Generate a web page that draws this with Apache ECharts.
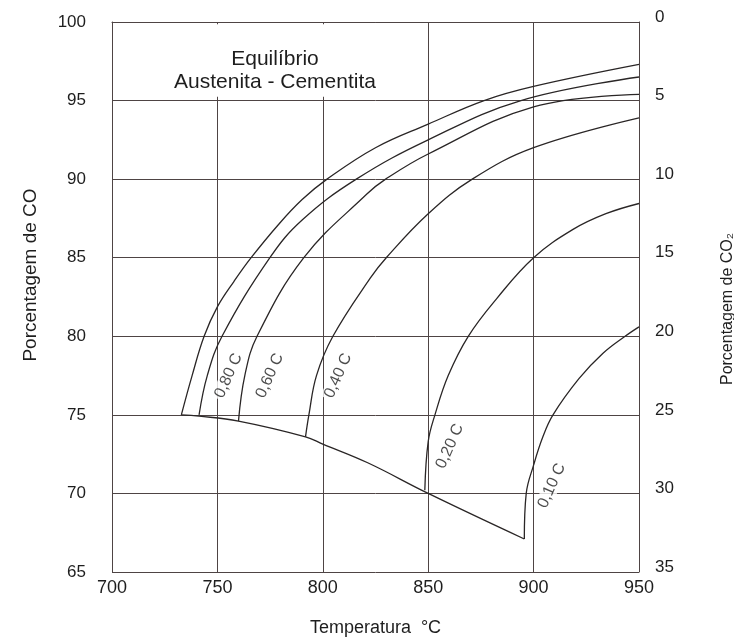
<!DOCTYPE html>
<html>
<head>
<meta charset="utf-8">
<title>Equilíbrio Austenita - Cementita</title>
<script src="https://cdn.jsdelivr.net/npm/echarts@6/dist/echarts.min.js"></script>
<style>
  html, body { margin: 0; padding: 0; background: #fff; }
  #chart { width: 734px; height: 642px; }
</style>
</head>
<body>
<div id="chart"></div>
<script>
// Equilíbrio austenita - cementita: % CO x temperatura

const tempTicks = [700, 750, 800, 850, 900, 950];
const coTicks = [65, 70, 75, 80, 85, 90, 95, 100];
const co2Ticks = [0, 5, 10, 15, 20, 25, 30, 35];

// curvas: [temperatura °C, % CO]
const curveSat = [[732.9, 75], [738, 77.5], [743.7, 80], [750.1, 81.9], [757.9, 83.5], [766, 85], [778.9, 87.1], [790.2, 88.7], [802, 90], [825, 92], [850, 93.5], [876.5, 95], [900, 95.9], [950, 97.3]];
const curve080 = [[741.3, 75], [745.2, 77.5], [752.2, 80], [774.9, 85], [790.2, 87.4], [815.9, 90], [850, 92.5], [894, 95], [950, 96.5]];
const curve060 = [[760, 74.6], [763, 77.5], [768.8, 80], [791, 85], [820.9, 89.05], [829.8, 90], [850, 91.6], [900, 94.6], [950, 95.4]];
const curve040 = [[791.8, 73.6], [793.4, 75], [797, 77.5], [804.8, 80], [822.5, 83.7], [830.1, 85], [850, 87.8], [870.9, 90], [900, 92], [950, 93.9]];
const curve020 = [[848.4, 70.2], [850, 73.3], [853.2, 75], [859.5, 77.5], [869, 80], [882.5, 82.4], [900, 85], [918.7, 86.8], [934.3, 87.8], [950, 88.45]];
const curve010 = [[895.6, 67.1], [896.5, 70], [900, 71.8], [904.4, 73.6], [909.2, 75], [921.5, 77.3], [932.8, 78.9], [943.4, 80], [950, 80.6]];
// limite inferior, onde as curvas começam
const lowerBound = [[732.9, 75], [741.3, 74.92], [760, 74.6], [791.8, 73.6], [800, 73.14], [821.3, 71.95], [850, 70.0], [895.6, 67.1]];

const labelNames = ['0,80 C', '0,60 C', '0,40 C', '0,20 C', '0,10 C'];
const labelAnchors = [[755.3, 77.5], [774.9, 77.5], [807.3, 77.5], [860.3, 73], [908.6, 70.5]];

const chart = echarts.init(document.getElementById('chart'));

const lineColor = '#2a2626';
const gridColor = '#4e4444';
const textColor = '#1e1e1e';
const font = 'Liberation Sans, Arial, sans-serif';

const curves = [curveSat, curve080, curve060, curve040, curve020, curve010, lowerBound];

const lineSeries = curves.map(c => ({
  type: 'line',
  data: c,
  smooth: 0.4,
  symbol: 'none',
  silent: true,
  lineStyle: { color: lineColor, width: 1.3 },
  z: 3
}));

// caixa branca atrás do título (as linhas 750/800 não sobem até o topo)
lineSeries[lineSeries.length - 1].markArea = {
  silent: true,
  itemStyle: { color: '#fff' },
  data: [[{ coord: [702, 95.25] }, { coord: [847, 99.85] }]]
};

const option = {
  backgroundColor: '#fff',
  animation: false,
  title: {
    text: 'Equilíbrio\nAustenita - Cementita',
    left: 275,
    top: 48,
    textAlign: 'center',
    padding: 0,
    z: 10,
    textStyle: {
      fontFamily: font,
      fontSize: 21,
      fontWeight: 'normal',
      color: textColor,
      lineHeight: 23
    }
  },
  grid: {
    left: 112,
    right: 95,
    top: 22,
    bottom: 70,
    outerBoundsMode: 'none'
  },
  xAxis: {
    type: 'value',
    min: tempTicks[0],
    max: tempTicks[tempTicks.length - 1],
    interval: tempTicks[1] - tempTicks[0],
    name: 'Temperatura  °C',
    nameLocation: 'middle',
    nameGap: 47,
    nameTextStyle: { fontFamily: font, fontSize: 18, color: textColor },
    axisLine: { lineStyle: { color: gridColor, width: 1 } },
    axisTick: { show: false },
    axisLabel: { margin: 7, fontFamily: font, fontSize: 18, color: textColor },
    splitLine: { show: true, lineStyle: { color: gridColor, width: 1 } }
  },
  yAxis: [
    {
      type: 'value',
      min: coTicks[0],
      max: coTicks[coTicks.length - 1],
      interval: coTicks[1] - coTicks[0],
      name: 'Porcentagem de CO',
      nameLocation: 'middle',
      nameRotate: 90,
      nameGap: 72,
      nameTextStyle: { fontFamily: font, fontSize: 19, color: textColor, padding: [0, 0, 0, 44] },
      axisLine: { show: true, lineStyle: { color: gridColor, width: 1 } },
      axisTick: { show: false },
      axisLabel: { margin: 26, fontFamily: font, fontSize: 17, color: textColor },
      splitLine: { show: true, lineStyle: { color: gridColor, width: 1 } }
    },
    {
      type: 'value',
      position: 'right',
      inverse: true,
      min: co2Ticks[0],
      max: co2Ticks[co2Ticks.length - 1],
      interval: co2Ticks[1] - co2Ticks[0],
      name: 'Porcentagem de CO₂',
      nameLocation: 'middle',
      nameRotate: 90,
      nameGap: 81,
      nameTextStyle: { fontFamily: font, fontSize: 16, color: textColor, padding: [0, 24, 0, 0] },
      axisLine: { show: true, lineStyle: { color: gridColor, width: 1 } },
      axisTick: { show: false },
      axisLabel: { margin: 16, fontFamily: font, fontSize: 17, color: textColor, verticalAlign: 'bottom', lineHeight: 10 },
      splitLine: { show: false }
    }
  ],
  series: lineSeries.concat([{
    type: 'scatter',
    symbolSize: 0,
    silent: true,
    z: 5,
    data: labelAnchors.map((p, i) => ({ value: p, name: labelNames[i] })),
    label: {
      show: true,
      position: 'inside',
      formatter: '{b}',
      rotate: 66,
      fontFamily: font,
      fontSize: 16,
      color: textColor,
      backgroundColor: '#fff',
      padding: [0, 2]
    }
  }])
};

chart.setOption(option);
</script>
</body>
</html>
